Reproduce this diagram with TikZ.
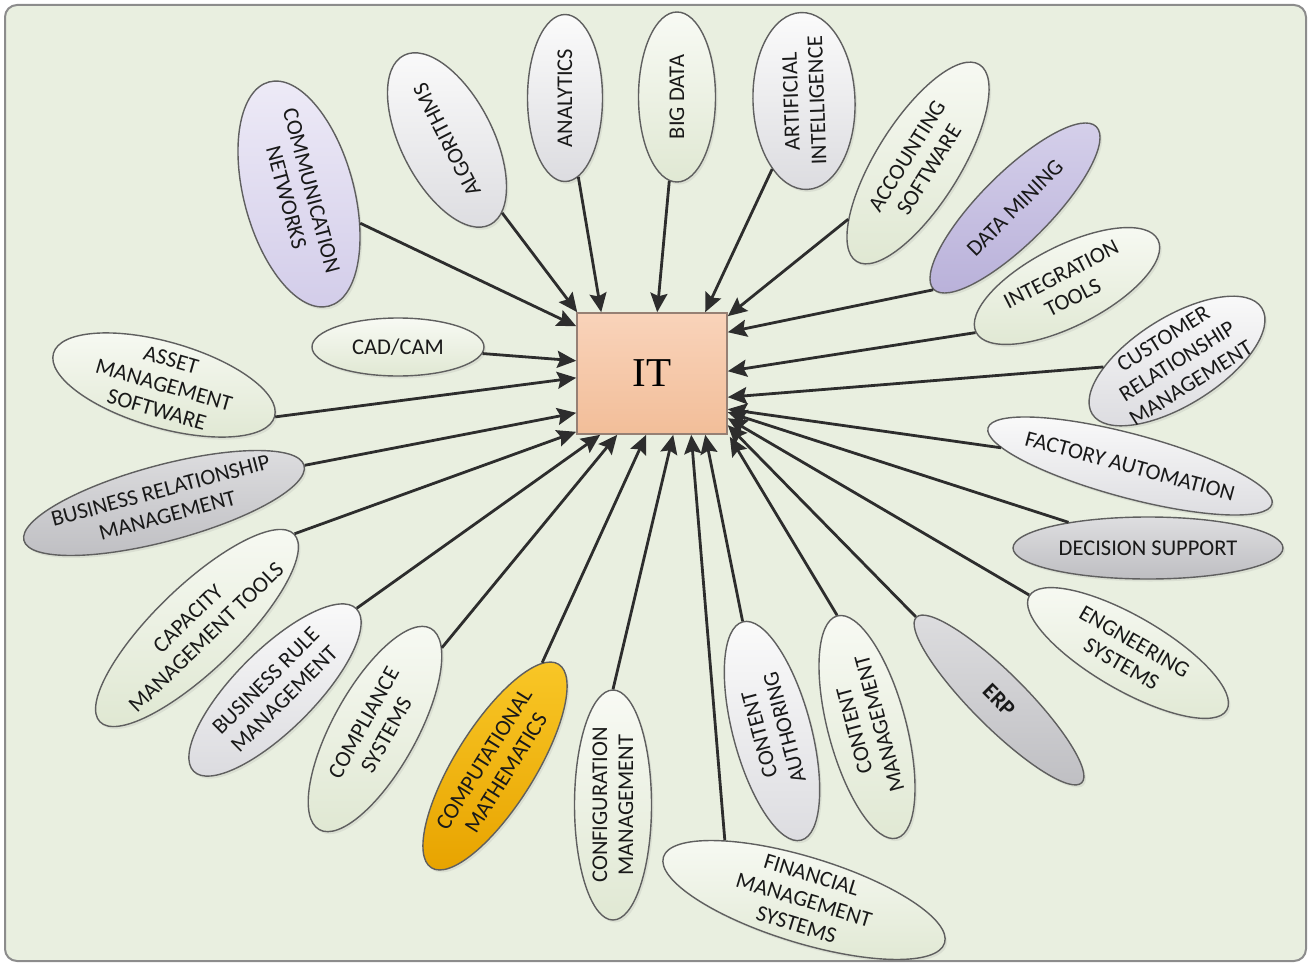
\documentclass[tikz,border=0pt]{standalone}
\usepackage{fontspec}
\setmainfont{Carlito}
\newfontfamily\itfont{Liberation Serif}
\usetikzlibrary{shapes.geometric,arrows.meta,calc,shadows}

\definecolor{bg}{RGB}{233,239,224}
\definecolor{frameln}{RGB}{140,140,140}
\definecolor{bubln}{RGB}{95,95,95}
\definecolor{linkc}{RGB}{45,45,45}
\definecolor{txtc}{RGB}{25,25,25}
\definecolor{gwA}{RGB}{248,250,244}
\definecolor{gwB}{RGB}{224,232,211}
\definecolor{wwA}{RGB}{251,251,251}
\definecolor{wwB}{RGB}{220,220,224}
\definecolor{plA}{RGB}{238,235,247}
\definecolor{plB}{RGB}{210,204,233}
\definecolor{pdA}{RGB}{214,209,235}
\definecolor{pdB}{RGB}{186,178,218}
\definecolor{gyA}{RGB}{222,222,224}
\definecolor{gyB}{RGB}{190,190,194}
\definecolor{orA}{RGB}{249,200,40}
\definecolor{orB}{RGB}{232,164,0}
\definecolor{itA}{RGB}{249,211,186}
\definecolor{itB}{RGB}{242,190,153}
\definecolor{itln}{RGB}{150,128,116}

\tikzset{
  bub/.style={ellipse, draw=bubln, line width=1.4pt, inner sep=0pt,
    drop shadow={opacity=0.14, shadow xshift=2pt, shadow yshift=-2.5pt}},
  greenish/.style={bub, top color=gwA, bottom color=gwB},
  whitish/.style={bub, top color=wwA, bottom color=wwB},
  lilac/.style={bub, top color=plA, bottom color=plB},
  violet/.style={bub, top color=pdA, bottom color=pdB},
  greyish/.style={bub, top color=gyA, bottom color=gyB},
  golden/.style={bub, top color=orA, bottom color=orB},
  txt/.style={align=center, text=txtc, inner sep=0pt,
    font=\fontsize{22.5}{26}\selectfont},
  itbox/.style={draw=itln, line width=1.6pt, top color=itA, bottom color=itB,
    minimum width=150pt, minimum height=121pt, inner sep=0pt,
    font=\itfont\fontsize{41}{45}\selectfont, text=black},
  link/.style={draw=linkc, line width=2.8pt,
    -{Stealth[length=19pt, width=17pt, inset=3pt]}},
  frame/.style={draw=frameln, line width=2pt, fill=bg, rounded corners=12pt}
}

% name, style, x, y, angle, major diameter, minor diameter, text
\newcommand\bubblenode[8]{%
  \node[#2, rotate=#5, minimum width=#6pt, minimum height=#7pt] (#1) at (#3,#4) {};
  \node[txt, rotate=#5] (#1-t) at (#1.center) {#8};
}

\begin{document}
\begin{tikzpicture}[x=1pt,y=-1pt]
\useasboundingbox (0,0) rectangle (1311,966);
\path[frame] (5,5) rectangle (1306,961);

% central box
\node[itbox] (it) at (652,373.5) {IT};

% surrounding topics
\bubblenode{cn}{lilac}{299}{194}{-75}{232}{110}{COMMUNICATION\\NETWORKS}
\bubblenode{alg}{whitish}{447}{140}{117}{190}{92}{ALGORITHMS}
\bubblenode{ana}{whitish}{565}{98}{90}{167}{75}{ANALYTICS}
\bubblenode{big}{greenish}{677}{97}{90}{170}{77}{BIG DATA}
\bubblenode{ai}{whitish}{804}{101}{92}{177}{102}{ARTIFICIAL\\INTELLIGENCE}
\bubblenode{acc}{greenish}{918}{163}{58}{232}{84}{ACCOUNTING\\SOFTWARE}
\bubblenode{dm}{violet}{1015}{208}{45}{230}{70}{DATA MINING}
\bubblenode{integ}{greenish}{1067}{286}{27}{204}{80}{INTEGRATION\\TOOLS}
\bubblenode{crm}{whitish}{1177}{361}{32}{200}{88}{CUSTOMER\\RELATIONSHIP\\MANAGEMENT}
\bubblenode{fa}{whitish}{1130}{466}{-15}{294}{64}{FACTORY AUTOMATION}
\bubblenode{ds}{greyish}{1148}{548}{0}{270}{62}{DECISION SUPPORT}
\bubblenode{eng}{greenish}{1128}{653}{-30}{228}{74}{ENGNEERING\\SYSTEMS}
\bubblenode{erp}{greyish}{999}{700}{-45}{234}{54}{\bfseries ERP}
\bubblenode{cm}{greenish}{867}{727}{105}{230}{78}{CONTENT\\MANAGEMENT}
\bubblenode{ca}{whitish}{772}{731}{105}{226}{78}{CONTENT\\AUTHORING}
\bubblenode{fin}{greenish}{804}{900}{-17}{294}{86}{FINANCIAL\\MANAGEMENT\\SYSTEMS}
\bubblenode{cfg}{greenish}{613}{805}{90}{230}{77}{CONFIGURATION\\MANAGEMENT}
\bubblenode{cmath}{golden}{495}{766}{58}{240}{80}{COMPUTATIONAL\\MATHEMATICS}
\bubblenode{comp}{greenish}{375}{729}{61}{230}{84}{COMPLIANCE\\SYSTEMS}
\bubblenode{brule}{whitish}{275}{690}{45}{230}{80}{BUSINESS RULE\\MANAGEMENT}
\bubblenode{cap}{greenish}{197}{628}{44}{270}{84}{CAPACITY\\MANAGEMENT TOOLS}
\bubblenode{brm}{greyish}{164}{503}{15}{290}{76}{BUSINESS RELATIONSHIP\\MANAGEMENT}
\bubblenode{asset}{greenish}{164}{385}{-16}{230}{86}{ASSET\\MANAGEMENT\\SOFTWARE}
\bubblenode{cad}{greenish}{398}{347}{0}{172}{58}{CAD/CAM}

% connectors into the box
\draw[link] (cn) -- ($(it.north west)+(0,14)$);
\draw[link] (alg) -- ($(it.north west)+(1,0)$);
\draw[link] (ana) -- ($(it.north west)+(25,0)$);
\draw[link] (big) -- ($(it.north west)+(81,0)$);
\draw[link] (ai) -- ($(it.north west)+(129,0)$);
\draw[link] (acc) -- ($(it.north east)+(0,4)$);
\draw[link] (dm.west) -- ($(it.north east)+(0,20)$);
\draw[link] (integ.west) -- ($(it.north east)+(0,59)$);
\draw[link] (crm) -- ($(it.north east)+(0,85)$);
\draw[link] (fa) -- ($(it.north east)+(0,97)$);
\draw[link] (ds) -- ($(it.north east)+(0,100)$);
\draw[link] (eng) -- ($(it.north east)+(0,106)$);
\draw[link] (erp.west) -- ($(it.north east)+(0,113)$);
\draw[link] (cm.east) -- ($(it.south east)+(2,2)$);
\draw[link] (ca.east) -- ($(it.south west)+(129,0)$);
\draw[link] (fin.160) -- ($(it.south west)+(115,0)$);
\draw[link] (cfg.east) -- ($(it.south west)+(97,0)$);
\draw[link] (cmath) -- ($(it.south west)+(70,0)$);
\draw[link] (comp) -- ($(it.south west)+(41,0)$);
\draw[link] (brule.east) -- ($(it.south west)+(24,0)$);
\draw[link] (cap.east) -- ($(it.south west)+(0,-3)$);
\draw[link] (brm.east) -- ($(it.south west)+(0,-22)$);
\draw[link] (asset.east) -- ($(it.south west)+(0,-57)$);
\draw[link] (cad) -- ($(it.south west)+(0,-74)$);
\end{tikzpicture}
\end{document}
